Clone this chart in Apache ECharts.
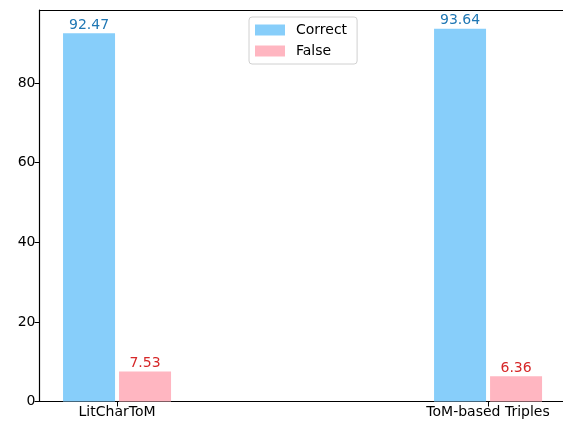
<!DOCTYPE html>
<html lang="en">
<head>
  <meta charset="utf-8">
  <title>Correct vs False</title>
  <style>
    html, body { margin: 0; padding: 0; background: #fff; }
  </style>
</head>
<body>
  <div id="myCharts" style="width: 563px;height:430px;"></div>
  <script src="https://cdn.jsdelivr.net/npm/echarts@6.0.0/dist/echarts.min.js"></script>
  <script type="text/javascript">
    // categories and values
    var categories = ['LitCharToM', 'ToM-based Triples'];
    var correctValues = [92.47, 93.64];
    var falseValues = [7.53, 6.36];
    var yTicks = [0, 20, 40, 60, 80];

    var font = 'DejaVu Sans';
    var myChart = echarts.init(document.getElementById('myCharts'));

    function toPairs(vals) {
      return vals.map(function (v, i) { return [i, v]; });
    }

    var chartOption = {
      animation: false,
      textStyle: { fontFamily: font },
      grid: {
        left: 39.5, right: 0, top: 10, bottom: 28.5,
        containLabel: false
      },
      legend: {
        orient: 'vertical',
        left: 249, top: 17,
        padding: [6, 10, 6, 6],
        itemWidth: 30, itemHeight: 11, itemGap: 7,
        icon: 'rect',
        borderColor: '#d0d0d0', borderWidth: 1, borderRadius: 3,
        textStyle: { fontFamily: font, fontSize: 14, color: '#000', padding: [0, 0, 0, 6] },
        data: ['Correct', 'False']
      },
      xAxis: [
        {
          type: 'value',
          min: -0.209,
          max: 1.202,
          splitLine: { show: false },
          axisLine: { onZero: false, lineStyle: { color: '#000', width: 1.2 } },
          axisTick: { show: true, inside: false, customValues: [0, 1], length: 5, lineStyle: { color: '#000' } },
          axisLabel: {
            customValues: [0, 1],
            margin: 4,
            fontFamily: font, fontSize: 14, color: '#000',
            formatter: function (v) { return categories[Math.round(v)]; }
          }
        },
        {
          // top spine only
          type: 'value',
          position: 'top',
          min: -0.209,
          max: 1.202,
          splitLine: { show: false },
          axisLine: { show: true, onZero: false, lineStyle: { color: '#000', width: 1.2 } },
          axisTick: { show: false },
          axisLabel: { show: false }
        }
      ],
      yAxis: {
        type: 'value',
        min: 0,
        max: 98.32,
        splitLine: { show: false },
        axisLine: { show: true, onZero: false, lineStyle: { color: '#000', width: 1.2 } },
        axisTick: { show: true, inside: false, customValues: yTicks, length: 5, lineStyle: { color: '#000' } },
        axisLabel: {
          customValues: yTicks,
          margin: 4,
          fontFamily: font, fontSize: 14, color: '#000'
        }
      },
      series: [
        {
          name: 'Correct',
          type: 'bar',
          barWidth: 52,
          barGap: '7.7%',
          itemStyle: { color: '#87CEFA' },
          label: {
            show: true, position: 'top', distance: 1,
            fontFamily: font, fontSize: 14, color: '#1f77b4'
          },
          data: toPairs(correctValues)
        },
        {
          name: 'False',
          type: 'bar',
          barWidth: 52,
          barGap: '7.7%',
          itemStyle: { color: '#FFB6C1' },
          label: {
            show: true, position: 'top', distance: 1,
            fontFamily: font, fontSize: 14, color: '#d62728'
          },
          data: toPairs(falseValues)
        }
      ]
    };
    myChart.setOption(chartOption);
  </script>
</body>
</html>
